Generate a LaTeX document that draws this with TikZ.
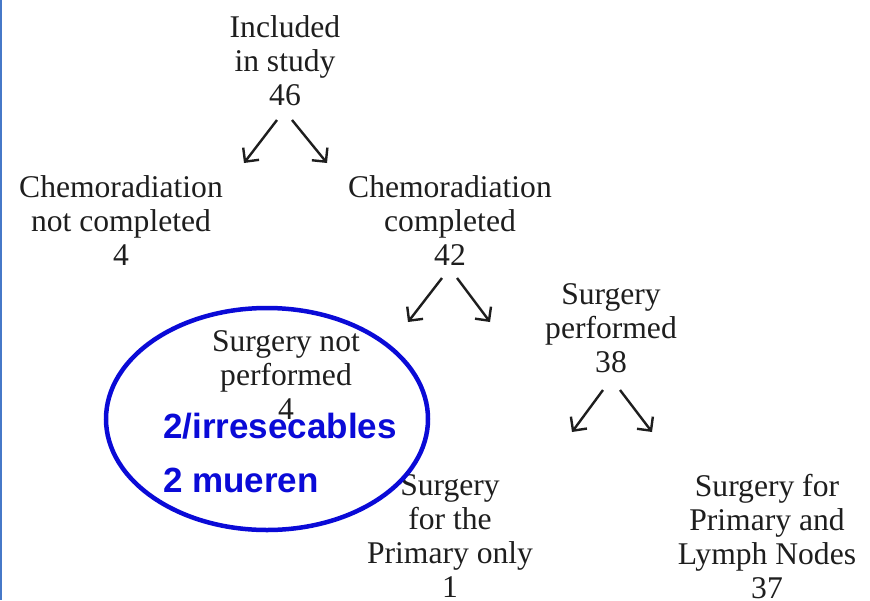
\documentclass[tikz,border=0pt]{standalone}
\usepackage{fontspec}
\setmainfont{Liberation Serif}
\newfontfamily\bluefont{Liberation Sans}
\usetikzlibrary{arrows.meta,shapes.geometric}
\definecolor{txtgray}{RGB}{30,30,30}
\definecolor{markblue}{RGB}{10,10,215}
\definecolor{edgeblue}{RGB}{70,120,200}
\tikzset{
  lbl/.style={anchor=north, inner sep=0pt, align=center, text=txtgray,
    font=\fontsize{31.6}{34}\selectfont},
  arr/.style={draw=txtgray, line width=2.4pt,
    -{Straight Barb[length=10pt,width=20pt,line width=2.4pt]}},
  note/.style={anchor=base west, inner sep=0pt, text=markblue,
    font=\bluefont\bfseries\fontsize{35}{40}\selectfont}
}
\begin{document}
\begin{tikzpicture}[x=1pt,y=-1pt]
\useasboundingbox (0,0) rectangle (870,600);
\fill[white] (0,0) rectangle (870,600);
\draw[edgeblue, line width=2.5pt] (1,0) -- (1,600);

\node[lbl] (inc) at (285,15) {Included\\in study\\46};
\node[lbl] (cnc) at (121,175) {Chemoradiation\\not completed\\4};
\node[lbl] (cc) at (450,175) {Chemoradiation\\completed\\42};
\node[lbl] (snp) at (286,330) {Surgery not\\performed\\4};
\node[lbl] (sp) at (611,283) {Surgery\\performed\\38};
\node[lbl] (spo) at (450,474) {Surgery\\for the\\Primary only\\1};
\node[lbl] (spl) at (767,474) {Surgery for\\Primary and\\Lymph Nodes\\37};

\coordinate (a1s) at (277,120); \coordinate (a1e) at (244,163);
\coordinate (a2s) at (292,120); \coordinate (a2e) at (327,163);
\coordinate (a3s) at (442,278); \coordinate (a3e) at (408,322);
\coordinate (a4s) at (457,278); \coordinate (a4e) at (490,322);
\coordinate (a5s) at (603,390); \coordinate (a5e) at (572,432);
\coordinate (a6s) at (620,390); \coordinate (a6e) at (652,432);
\draw[arr] (a1s) -- (a1e);
\draw[arr] (a2s) -- (a2e);
\draw[arr] (a3s) -- (a3e);
\draw[arr] (a4s) -- (a4e);
\draw[arr] (a5s) -- (a5e);
\draw[arr] (a6s) -- (a6e);

\node[draw=markblue, line width=4.5pt, ellipse, minimum width=322pt, minimum height=222pt, inner sep=0pt] (circ) at (267,419) {};
\node[note] (n1) at (163,438) {2/irresecables};
\node[note] (n2) at (163,492) {2 mueren};
\end{tikzpicture}
\end{document}
